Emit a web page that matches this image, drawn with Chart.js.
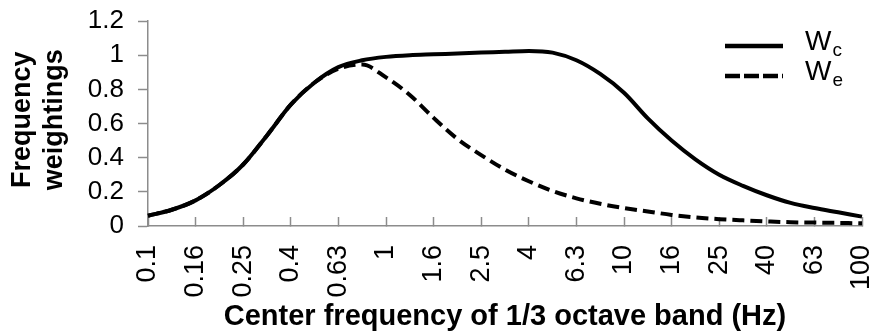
<!DOCTYPE html>
<html>
<head>
<meta charset="utf-8">
<script src="https://cdn.jsdelivr.net/npm/chart.js@4/dist/chart.umd.min.js"></script>
<style>
  html, body { margin: 0; padding: 0; background: #fff; }
  #wrap { width: 873px; height: 334px; }
</style>
</head>
<body>
<div id="wrap"><canvas id="chart" width="873" height="334"></canvas></div>
<script>
// 1/3 octave band centre frequencies (Hz)
const bands = ["0.1", "0.125", "0.16", "0.2", "0.25", "0.315", "0.4", "0.5", "0.63", "0.8",
  "1", "1.25", "1.6", "2", "2.5", "3.15", "4", "5", "6.3", "8",
  "10", "12.5", "16", "20", "25", "31.5", "40", "50", "63", "80", "100"];

const wc = [0.06, 0.095, 0.15, 0.24, 0.36, 0.53, 0.71, 0.84, 0.93, 0.97,
  0.99, 1.0, 1.005, 1.01, 1.015, 1.02, 1.025, 1.015, 0.97, 0.89,
  0.78, 0.63, 0.5, 0.39, 0.3, 0.235, 0.18, 0.135, 0.105, 0.08, 0.055];

const we = [0.06, 0.095, 0.15, 0.24, 0.36, 0.53, 0.71, 0.84, 0.92, 0.945,
  0.87, 0.767, 0.633, 0.51, 0.415, 0.33, 0.262, 0.205, 0.162, 0.13,
  0.105, 0.085, 0.065, 0.05, 0.04, 0.033, 0.027, 0.022, 0.02, 0.018, 0.016];

const yTicks = [0, 0.2, 0.4, 0.6, 0.8, 1, 1.2];

const FONT = "'Liberation Sans', Arial, sans-serif";
const AXIS_GREY = "#8c8c8c";

// legend with subscripts (W_c / W_e), drawn at the top right
const subLegend = {
  id: "subLegend",
  afterDraw(chart) {
    const ctx = chart.ctx;
    const items = [
      { ds: chart.data.datasets[0], sub: "c", y: 46 },
      { ds: chart.data.datasets[1], sub: "e", y: 76 },
    ];
    ctx.save();
    for (const it of items) {
      ctx.beginPath();
      ctx.strokeStyle = it.ds.borderColor;
      ctx.lineWidth = 4.5;
      ctx.setLineDash(it.ds.borderDash ? [15, 4] : []);
      ctx.moveTo(725, it.y);
      ctx.lineTo(783, it.y);
      ctx.stroke();
      ctx.setLineDash([]);
      ctx.fillStyle = "#000";
      ctx.textBaseline = "alphabetic";
      ctx.font = "28px " + FONT;
      ctx.fillText("W", 805, it.y + 4);
      const w = ctx.measureText("W").width;
      ctx.font = "19px " + FONT;
      ctx.fillText(it.sub, 805 + w + 1, it.y + 10);
    }
    ctx.restore();
  }
};

new Chart(document.getElementById("chart"), {
  type: "line",
  data: {
    labels: bands,
    datasets: [
      { label: "Wc", data: wc, borderColor: "#000", borderWidth: 4, pointRadius: 0, cubicInterpolationMode: "monotone", fill: false },
      { label: "We", data: we, borderColor: "#000", borderWidth: 4, borderDash: [12, 6], pointRadius: 0, cubicInterpolationMode: "monotone", fill: false },
    ],
  },
  options: {
    responsive: false,
    animation: false,
    layout: { padding: { top: 21, right: 11, left: 0, bottom: 0 } },
    plugins: { legend: { display: false }, tooltip: { enabled: false } },
    scales: {
      x: {
        type: "category",
        offset: false,
        grid: {
          drawOnChartArea: false,
          tickLength: -9,
          tickWidth: 1.5,
          tickColor: c => (c.index % 2 ? "rgba(0,0,0,0)" : AXIS_GREY),
        },
        border: { color: AXIS_GREY, width: 1.5 },
        ticks: {
          autoSkip: false, maxRotation: 90, minRotation: 90, padding: 28,
          color: "#000", font: { family: FONT, size: 27 },
          callback: (v, i) => (i % 2 ? "" : bands[i]),
        },
        title: {
          display: true, text: "Center frequency of 1/3 octave band (Hz)",
          color: "#000", font: { family: FONT, size: 29, weight: "bold" }, padding: 0,
        },
        afterFit: s => { s.height = 108; s.paddingLeft = 0; s.paddingRight = 0; },
      },
      y: {
        min: 0, max: 1.2,
        afterBuildTicks: s => { s.ticks = yTicks.map(v => ({ value: v })); },
        grid: { drawOnChartArea: false, tickLength: 10, tickWidth: 1.5, tickColor: AXIS_GREY },
        border: { color: AXIS_GREY, width: 1.5 },
        ticks: { autoSkip: false, padding: 14, color: "#000", font: { family: FONT, size: 26 }, callback: v => String(+v.toFixed(1)) },
        title: {
          display: true, text: [" Frequency", " weightings"],
          color: "#000", font: { family: FONT, size: 27, weight: "bold" }, padding: { top: 6, bottom: 0 },
        },
        afterFit: s => { s.width = 148; s.paddingTop = 0; s.paddingBottom = 0; },
      },
    },
  },
  plugins: [subLegend],
});
</script>
</body>
</html>
